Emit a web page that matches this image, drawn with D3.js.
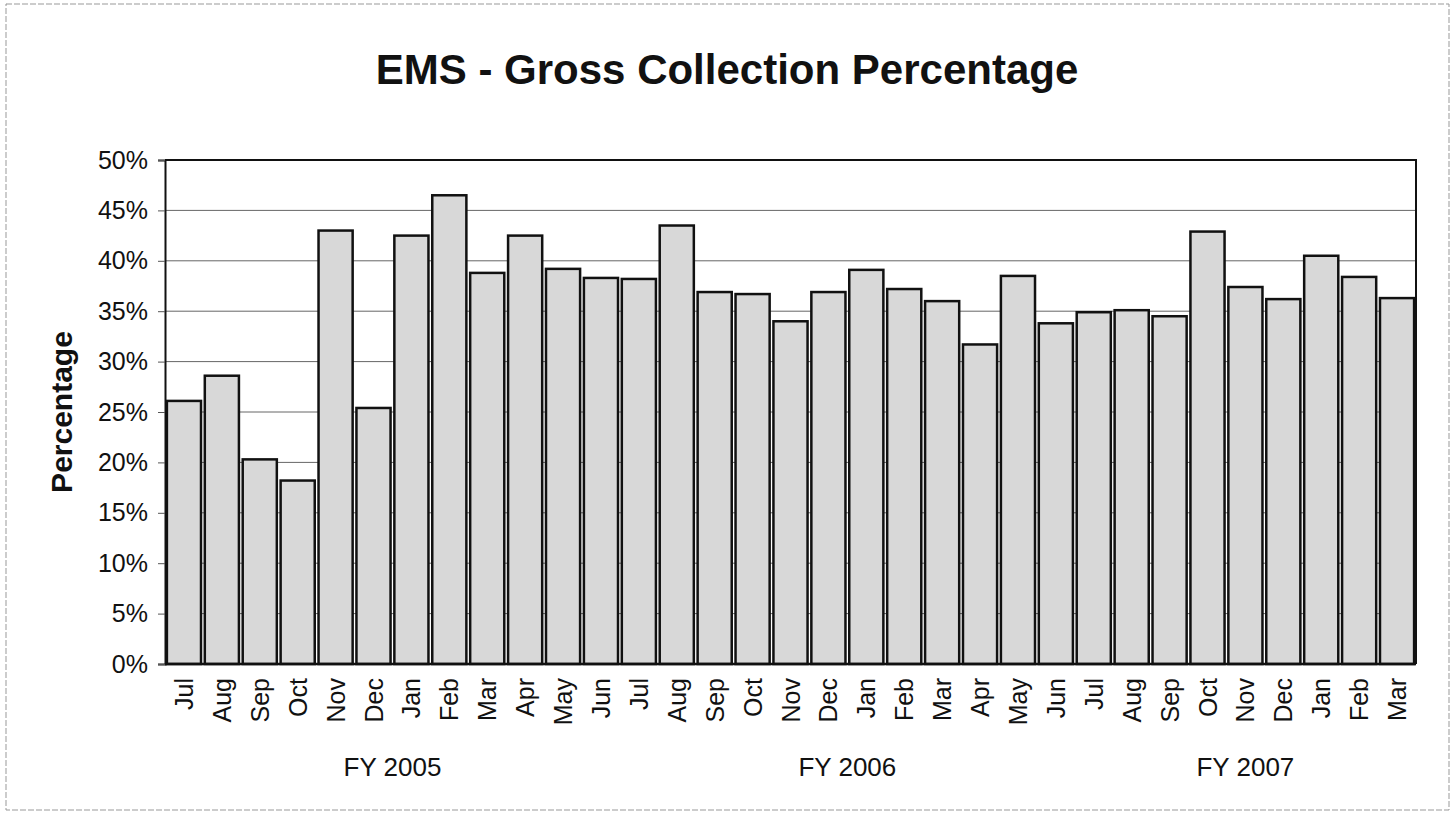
<!DOCTYPE html>
<html>
<head>
<meta charset="utf-8">
<script src="https://cdn.jsdelivr.net/npm/d3@7"></script>
<style>
  body { margin: 0; background: #fff; }
  text { font-family: "Liberation Sans", Arial, sans-serif; }
</style>
</head>
<body>
<div id="chart"></div>
<script>
const width = 1455;
const height = 818;

// data
const months = ["Jul", "Aug", "Sep", "Oct", "Nov", "Dec", "Jan", "Feb", "Mar", "Apr", "May", "Jun",
  "Jul", "Aug", "Sep", "Oct", "Nov", "Dec", "Jan", "Feb", "Mar", "Apr", "May", "Jun",
  "Jul", "Aug", "Sep", "Oct", "Nov", "Dec", "Jan", "Feb", "Mar"];
const values = [26.1, 28.6, 20.3, 18.2, 43.0, 25.4, 42.5, 46.5, 38.8, 42.5, 39.2, 38.3,
  38.2, 43.5, 36.9, 36.7, 34.0, 36.9, 39.1, 37.2, 36.0, 31.7, 38.5, 33.8,
  34.9, 35.1, 34.5, 42.9, 37.4, 36.2, 40.5, 38.4, 36.3];
const fiscalYears = ["FY 2005", "FY 2006", "FY 2007"];
const yearSizes = [12, 12, 9];
const yTicks = [0, 5, 10, 15, 20, 25, 30, 35, 40, 45, 50];

const margin = { left: 165, top: 160, right: 39, bottom: 154 };
const plotW = width - margin.left - margin.right;
const plotH = height - margin.top - margin.bottom;

const svg = d3.select("#chart")
  .append("svg")
  .attr("width", width)
  .attr("height", height);

// scanned page border
svg.append("rect")
  .attr("x", 6).attr("y", 4)
  .attr("width", width - 12).attr("height", height - 12)
  .attr("fill", "none")
  .attr("stroke", "#999")
  .attr("stroke-width", 1)
  .attr("stroke-dasharray", "6 2");

const data = months.map((m, i) => ({ i, month: m, value: values[i] }));

const x = d3.scaleBand()
  .domain(data.map(d => d.i))
  .range([0, plotW])
  .paddingInner(0.1)
  .paddingOuter(0.05);

const y = d3.scaleLinear()
  .domain([0, 50])
  .range([plotH, 0]);

const g = svg.append("g")
  .attr("transform", `translate(${margin.left} ${margin.top})`);

// gridlines
g.append("g")
  .selectAll("line")
  .data(yTicks.slice(1, -1))
  .join("line")
  .attr("x1", 0).attr("x2", plotW)
  .attr("y1", d => y(d)).attr("y2", d => y(d))
  .attr("stroke", "#666")
  .attr("stroke-width", 1);

// bars
g.append("g")
  .selectAll("rect")
  .data(data)
  .join("rect")
  .attr("x", d => x(d.i))
  .attr("y", d => y(d.value))
  .attr("width", x.bandwidth())
  .attr("height", d => plotH - y(d.value))
  .attr("fill", "#d8d8d8")
  .attr("stroke", "#111")
  .attr("stroke-width", 2.5);

// plot frame
g.append("path")
  .attr("d", `M0,0H${plotW}V${plotH}`)
  .attr("fill", "none")
  .attr("stroke", "#111")
  .attr("stroke-width", 2);

g.append("line")
  .attr("x1", 0).attr("x2", plotW)
  .attr("y1", plotH).attr("y2", plotH)
  .attr("stroke", "#111")
  .attr("stroke-width", 2.5);

// y axis
const yAxis = g.append("g")
  .call(d3.axisLeft(y).tickValues(yTicks).tickFormat(d => d + "%").tickSize(7).tickPadding(10));
yAxis.select(".domain").attr("stroke", "#111").attr("stroke-width", 2);
yAxis.selectAll(".tick line").attr("stroke", "#555");
yAxis.selectAll("text")
  .attr("font-size", 25)
  .attr("fill", "#111")
  .attr("font-family", "Liberation Sans, Arial, sans-serif");

// month labels
g.append("g")
  .selectAll("text")
  .data(data)
  .join("text")
  .attr("transform", d => `translate(${x(d.i) + x.bandwidth() / 2} ${plotH + 14}) rotate(-90)`)
  .attr("dy", "0.36em")
  .attr("text-anchor", "end")
  .attr("font-size", 25)
  .attr("fill", "#111")
  .text(d => d.month);

// fiscal year labels, centred under their months
let start = 0;
const yearPos = yearSizes.map(n => {
  const a = x(start);
  const b = x(start + n - 1) + x.bandwidth();
  start += n;
  return (a + b) / 2;
});
g.append("g")
  .selectAll("text")
  .data(fiscalYears)
  .join("text")
  .attr("x", (d, i) => yearPos[i])
  .attr("y", plotH + 112)
  .attr("text-anchor", "middle")
  .attr("font-size", 26)
  .attr("fill", "#111")
  .text(d => d);

// y title
svg.append("text")
  .attr("transform", `translate(72 ${margin.top + plotH / 2}) rotate(-90)`)
  .attr("text-anchor", "middle")
  .attr("font-size", 30)
  .attr("font-weight", "bold")
  .attr("fill", "#111")
  .text("Percentage");

// chart title
svg.append("text")
  .attr("x", 727)
  .attr("y", 84)
  .attr("text-anchor", "middle")
  .attr("font-size", 42)
  .attr("font-weight", "bold")
  .attr("fill", "#111")
  .text("EMS - Gross Collection Percentage");
</script>
</body>
</html>
